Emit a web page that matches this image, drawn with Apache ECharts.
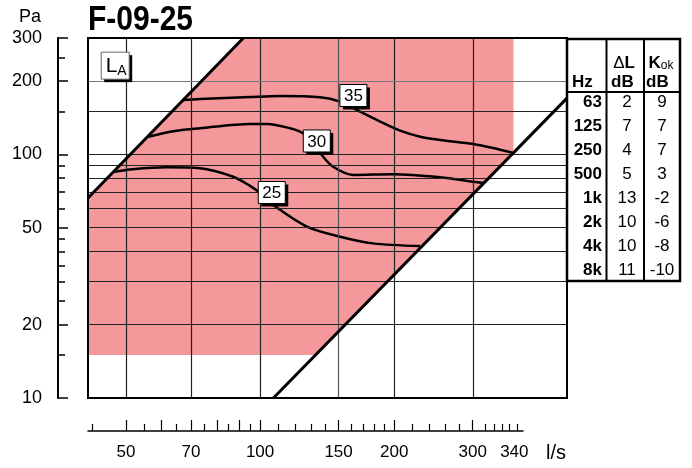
<!DOCTYPE html>
<html><head><meta charset="utf-8">
<script src="https://cdn.jsdelivr.net/npm/echarts@6/dist/echarts.min.js"></script>
<style>html,body{margin:0;padding:0;background:#fff}#c{width:692px;height:468px}</style>
</head><body><div id="c"></div>
<script>
const FONT = '"Liberation Sans", Arial, sans-serif';
const xMin = 41.1, xMax = 488, yMin = 10, yMax = 300;
const rulerXMax = 389;

const xGridValues = [50, 70, 100, 150, 200, 300];
const yGridValues = [200, 150, 100, 90, 80, 70, 60, 50, 40, 30, 20];
const xLabelValues = [50, 70, 100, 150, 200, 300, 372];
const xLabelTexts = ['50', '70', '100', '150', '200', '300', '340'];
const xMajorTicks = [50, 60, 70, 80, 90, 100, 150, 200, 300];
const xMinorTicks = [42, 55, 65, 75, 85, 95, 110, 120, 130, 140, 160, 170, 180, 190, 220, 240, 260, 280, 320, 335, 350, 362, 378];
const yLabelValues = [10, 20, 50, 100, 200, 300];
const yMinorTicks = [250, 150, 90, 80, 70, 60, 45, 40, 35, 30, 25, 15];

const regionPoly = [[41.1, 15], [41.1, 66.2], [91.7, 300], [370, 300], [370, 101.3], [133.1, 15]];
const upperLine = [[41.1, 66.2], [91.7, 300]];
const lowerLine = [[107.1, 10], [488, 170]];
const curve35 = [[67, 167], [73.3, 168.6], [94.9, 171.8], [110.8, 173.4], [136.3, 171.4], [151.1, 164.4], [167.6, 149.6], [185.9, 136.1], [206.1, 125], [228.6, 118.1], [253.4, 114.5], [300.5, 110.2], [333.2, 106.1], [369.5, 101.2]];
const curve30 = [[56.1, 118.1], [64.4, 124.6], [73.3, 127.9], [94.9, 133.2], [103.5, 133.2], [116.7, 127.9], [124.8, 122], [131.5, 111.3], [137.5, 99.3], [145.8, 88.9], [161.7, 82.3], [198.8, 82.8], [253.4, 80.5], [300.5, 77.2], [316.5, 76.2]];
const curve25 = [[46.8, 84.6], [51.8, 86.8], [61.7, 88.4], [73.3, 87.6], [87, 80.9], [94.9, 74.2], [102.6, 67], [106.9, 62], [127.3, 50.5], [151.1, 45.9], [179.2, 43.1], [228.6, 42]];
const curveLabels = [[161.9, 174.3, '35'], [134, 113.4, '30'], [106.2, 69.7, '25']];
const laPos = [[47.3, 231]];

const tableHz = ['63', '125', '250', '500', '1k', '2k', '4k', '8k'];
const tableDL = ['2', '7', '4', '5', '13', '10', '10', '11'];
const tableK = ['9', '7', '7', '3', '-2', '-6', '-8', '-10'];

const chart = echarts.init(document.getElementById('c'), null, {renderer: 'canvas'});

function curveSeries(data) {
  return {type: 'line', xAxisIndex: 0, yAxisIndex: 0, data: data, smooth: 0.3, showSymbol: false, symbol: 'none',
    lineStyle: {color: '#000', width: 2.5}, z: 4, silent: true, animation: false};
}

function boxChildren(c, w, h, textEl, borderColor) {
  return [
    {type: 'rect', shape: {x: c[0] - w / 2 + 3, y: c[1] - h / 2 + 3, width: w, height: h}, style: {fill: '#000'}},
    {type: 'rect', shape: {x: c[0] - w / 2, y: c[1] - h / 2, width: w, height: h}, style: {fill: '#fff', stroke: borderColor, lineWidth: 1}},
    textEl
  ];
}

const graphics = [];
graphics.push({type: 'text', x: 88, y: 3, scaleY: 1.18, style: {text: 'F-09-25', font: 'bold 30px ' + FONT, fill: '#000', verticalAlign: 'top'}});
graphics.push({type: 'text', x: 30, y: 17, style: {text: 'Pa', font: '18px ' + FONT, fill: '#000', align: 'center', verticalAlign: 'middle'}});
graphics.push({type: 'text', x: 556, y: 453, style: {text: 'l/s', font: '20px ' + FONT, fill: '#000', align: 'center', verticalAlign: 'middle'}});
const tL = 567, tR = 680, tT = 39, tB = 281, tH = 92, c1 = 606.5, c2 = 644;
graphics.push({type: 'rect', shape: {x: tL, y: tT, width: tR - tL, height: tB - tT}, style: {fill: 'none', stroke: '#000', lineWidth: 2.5}, z: 10});
graphics.push({type: 'line', shape: {x1: tL, y1: tH, x2: tR, y2: tH}, style: {stroke: '#000', lineWidth: 2}, z: 10});
graphics.push({type: 'line', shape: {x1: c1, y1: tT, x2: c1, y2: tB}, style: {stroke: '#000', lineWidth: 2}, z: 10});
graphics.push({type: 'line', shape: {x1: c2, y1: tT, x2: c2, y2: tB}, style: {stroke: '#000', lineWidth: 2}, z: 10});
graphics.push({type: 'text', x: 624, y: 63, z: 10, style: {text: '{d|Δ}{l|L}', align: 'center', verticalAlign: 'middle', fill: '#000',
  rich: {d: {font: '17px ' + FONT}, l: {font: 'bold 17px ' + FONT}}}});
graphics.push({type: 'text', x: 661, y: 63, z: 10, style: {text: '{k|K}{o|ok}', align: 'center', verticalAlign: 'middle', fill: '#000',
  rich: {k: {font: 'bold 17px ' + FONT}, o: {font: '12px ' + FONT, padding: [5, 0, 0, 0]}}}});
graphics.push({type: 'text', x: 572, y: 82, z: 10, style: {text: 'Hz', font: 'bold 17px ' + FONT, fill: '#000', verticalAlign: 'middle'}});
graphics.push({type: 'text', x: 611, y: 82, z: 10, style: {text: 'dB', font: 'bold 17px ' + FONT, fill: '#000', verticalAlign: 'middle'}});
graphics.push({type: 'text', x: 646, y: 82, z: 10, style: {text: 'dB', font: 'bold 17px ' + FONT, fill: '#000', verticalAlign: 'middle'}});
tableHz.forEach((h, i) => {
  const y = 102 + 24.1 * i;
  graphics.push({type: 'text', x: 602, y: y, z: 10, style: {text: h, font: 'bold 17px ' + FONT, fill: '#000', align: 'right', verticalAlign: 'middle'}});
  graphics.push({type: 'text', x: 627, y: y, z: 10, style: {text: tableDL[i], font: '17px ' + FONT, fill: '#000', align: 'center', verticalAlign: 'middle'}});
  graphics.push({type: 'text', x: 662, y: y, z: 10, style: {text: tableK[i], font: '17px ' + FONT, fill: '#000', align: 'center', verticalAlign: 'middle'}});
});

const option = {
  animation: false,
  backgroundColor: '#fff',
  grid: [
    {left: 88, top: 38, width: 479, height: 360, show: true, borderColor: '#000', borderWidth: 2, backgroundColor: 'transparent', containLabel: false, outerBoundsMode: 'none', z: 6},
    {left: 88, top: 400, width: 435, height: 31, show: false, containLabel: false, outerBoundsMode: 'none'}
  ],
  xAxis: [
    {gridIndex: 0, type: 'log', min: xMin, max: xMax, axisLine: {show: false}, axisTick: {show: false}, axisLabel: {show: false}, splitLine: {show: false}, minorTick: {show: false}},
    {gridIndex: 1, type: 'log', min: xMin, max: rulerXMax, position: 'bottom',
      axisLine: {show: true, onZero: false, lineStyle: {color: '#000', width: 1.5}},
      axisTick: {show: true, inside: true, length: 11, customValues: xMajorTicks, lineStyle: {color: '#000', width: 1.2}},
      axisLabel: {show: true, customValues: xLabelValues, margin: 13, color: '#000', fontSize: 17, fontFamily: FONT,
        formatter: v => { const i = xLabelValues.findIndex(x => Math.abs(x - v) < 0.5); return i >= 0 ? xLabelTexts[i] : ''; }},
      splitLine: {show: false}},
    {gridIndex: 1, type: 'log', min: xMin, max: rulerXMax, position: 'bottom',
      axisLine: {show: false, onZero: false},
      axisTick: {show: true, inside: true, length: 7, customValues: xMinorTicks, lineStyle: {color: '#000', width: 1.2}},
      axisLabel: {show: false}, splitLine: {show: false}}
  ],
  yAxis: [
    {gridIndex: 0, type: 'log', min: yMin, max: yMax, axisLine: {show: false}, axisTick: {show: false}, axisLabel: {show: false}, splitLine: {show: false}},
    {gridIndex: 0, type: 'log', min: yMin, max: yMax, position: 'left', offset: 30,
      axisLine: {show: true, onZero: false, lineStyle: {color: '#000', width: 2}},
      axisTick: {show: true, inside: true, length: 10, customValues: yLabelValues, lineStyle: {color: '#000', width: 1.5}},
      axisLabel: {show: true, customValues: yLabelValues, margin: 16, color: '#000', fontSize: 18, fontFamily: FONT, formatter: v => String(Math.round(v))},
      splitLine: {show: false}},
    {gridIndex: 0, type: 'log', min: yMin, max: yMax, position: 'left', offset: 30,
      axisLine: {show: false, onZero: false},
      axisTick: {show: true, inside: true, length: 7, customValues: yMinorTicks, lineStyle: {color: '#000', width: 1.5}},
      axisLabel: {show: false}, splitLine: {show: false}},
    {gridIndex: 1, type: 'value', show: false, min: 0, max: 1}
  ],
  graphic: graphics,
  series: [
    {type: 'custom', xAxisIndex: 0, yAxisIndex: 0, silent: true, z: 1,
      data: [regionPoly[0]],
      renderItem: (params, api) => {
        const pts = regionPoly.map(p => api.coord(p));
        return {type: 'polygon', shape: {points: pts}, style: {fill: '#f5989b'}};
      }},
    {type: 'line', xAxisIndex: 0, yAxisIndex: 0, data: [], silent: true, z: 2,
      markLine: {silent: true, symbol: ['none', 'none'], label: {show: false}, animation: false,
        lineStyle: {color: '#222', width: 1.2, type: 'solid'},
        data: xGridValues.map(v => ({xAxis: v, lineStyle: {color: v === 150 ? '#555' : '#222', width: 1.2, type: 'solid'}}))
          .concat(yGridValues.map(v => ({yAxis: v, lineStyle: {color: v === 200 ? '#777' : '#222', width: 1.2, type: 'solid'}})))}},
    curveSeries(curve35),
    curveSeries(curve30),
    curveSeries(curve25),
    {type: 'line', xAxisIndex: 0, yAxisIndex: 0, data: upperLine, showSymbol: false, symbol: 'none', lineStyle: {color: '#000', width: 3}, z: 5, silent: true},
    {type: 'line', xAxisIndex: 0, yAxisIndex: 0, data: lowerLine, showSymbol: false, symbol: 'none', lineStyle: {color: '#000', width: 3}, z: 5, silent: true},
    {type: 'custom', xAxisIndex: 0, yAxisIndex: 0, silent: true, z: 8,
      data: curveLabels.map(d => [d[0], d[1]]),
      renderItem: (params, api) => {
        const c = api.coord([api.value(0), api.value(1)]);
        const txt = {type: 'text', x: c[0], y: c[1] + 1, style: {text: curveLabels[params.dataIndex][2], font: '17px ' + FONT, fill: '#000', align: 'center', verticalAlign: 'middle'}};
        return {type: 'group', children: boxChildren(c, 27, 22, txt, '#000')};
      }},
    {type: 'custom', xAxisIndex: 0, yAxisIndex: 0, silent: true, z: 8,
      data: laPos,
      renderItem: (params, api) => {
        const c = api.coord([api.value(0), api.value(1)]);
        const txt = {type: 'text', x: c[0] + 1, y: c[1] + 1, style: {text: '{l|L}{a|A}', align: 'center', verticalAlign: 'middle', fill: '#000',
          rich: {l: {font: '21px ' + FONT, lineHeight: 24}, a: {font: '14px ' + FONT, padding: [9, 0, 0, 0], lineHeight: 24}}}};
        return {type: 'group', children: boxChildren(c, 28, 27, txt, '#666')};
      }}
  ]
};
chart.setOption(option);
</script></body></html>
